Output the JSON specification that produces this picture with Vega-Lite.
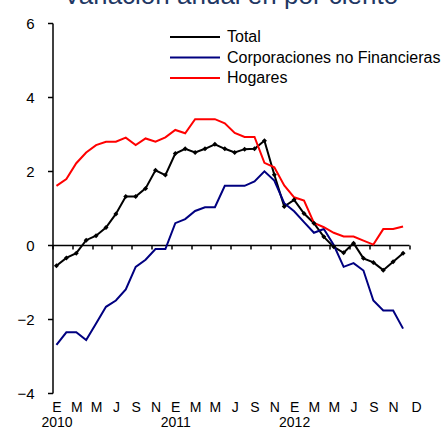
{
  "$schema": "https://vega.github.io/schema/vega-lite/v6.json",
  "autosize": {"type": "none"},
  "padding": {"left": 52.5, "top": 23, "right": 33, "bottom": 44},
  "width": 356.5,
  "height": 370,
  "title": {"text": "Variación anual en por ciento", "fontSize": 26, "font": "Liberation Sans", "fontWeight": "normal", "color": "#1F3864", "anchor": "middle", "baseline": "alphabetic", "offset": -1, "dy": 13},
  "config": {
    "view": {"stroke": null},
    "font": "Liberation Sans",
    "axis": {"grid": false, "domainColor": "black", "tickColor": "black", "labelColor": "black"}
  },
  "data": {"values": [
    {"mes": 0, "Total": -0.56, "Corporaciones no Financieras": -2.7, "Hogares": 1.6},
    {"mes": 1, "Total": -0.35, "Corporaciones no Financieras": -2.36, "Hogares": 1.78},
    {"mes": 2, "Total": -0.22, "Corporaciones no Financieras": -2.36, "Hogares": 2.21},
    {"mes": 3, "Total": 0.13, "Corporaciones no Financieras": -2.57, "Hogares": 2.5},
    {"mes": 4, "Total": 0.25, "Corporaciones no Financieras": -2.12, "Hogares": 2.7},
    {"mes": 5, "Total": 0.47, "Corporaciones no Financieras": -1.67, "Hogares": 2.79},
    {"mes": 6, "Total": 0.84, "Corporaciones no Financieras": -1.5, "Hogares": 2.79},
    {"mes": 7, "Total": 1.31, "Corporaciones no Financieras": -1.2, "Hogares": 2.9},
    {"mes": 8, "Total": 1.31, "Corporaciones no Financieras": -0.59, "Hogares": 2.7},
    {"mes": 9, "Total": 1.53, "Corporaciones no Financieras": -0.4, "Hogares": 2.88},
    {"mes": 10, "Total": 2.02, "Corporaciones no Financieras": -0.11, "Hogares": 2.79},
    {"mes": 11, "Total": 1.89, "Corporaciones no Financieras": -0.11, "Hogares": 2.91},
    {"mes": 12, "Total": 2.47, "Corporaciones no Financieras": 0.59, "Hogares": 3.11},
    {"mes": 13, "Total": 2.6, "Corporaciones no Financieras": 0.7, "Hogares": 3.02},
    {"mes": 14, "Total": 2.5, "Corporaciones no Financieras": 0.92, "Hogares": 3.4},
    {"mes": 15, "Total": 2.6, "Corporaciones no Financieras": 1.02, "Hogares": 3.4},
    {"mes": 16, "Total": 2.72, "Corporaciones no Financieras": 1.02, "Hogares": 3.4},
    {"mes": 17, "Total": 2.6, "Corporaciones no Financieras": 1.6, "Hogares": 3.29},
    {"mes": 18, "Total": 2.5, "Corporaciones no Financieras": 1.6, "Hogares": 3.03},
    {"mes": 19, "Total": 2.59, "Corporaciones no Financieras": 1.6, "Hogares": 2.92},
    {"mes": 20, "Total": 2.6, "Corporaciones no Financieras": 1.72, "Hogares": 2.92},
    {"mes": 21, "Total": 2.82, "Corporaciones no Financieras": 1.99, "Hogares": 2.22},
    {"mes": 22, "Total": 1.9, "Corporaciones no Financieras": 1.74, "Hogares": 2.1},
    {"mes": 23, "Total": 1.04, "Corporaciones no Financieras": 1.13, "Hogares": 1.61},
    {"mes": 24, "Total": 1.22, "Corporaciones no Financieras": 0.91, "Hogares": 1.29},
    {"mes": 25, "Total": 0.85, "Corporaciones no Financieras": 0.62, "Hogares": 1.2},
    {"mes": 26, "Total": 0.59, "Corporaciones no Financieras": 0.33, "Hogares": 0.6},
    {"mes": 27, "Total": 0.22, "Corporaciones no Financieras": 0.43, "Hogares": 0.48},
    {"mes": 28, "Total": -0.05, "Corporaciones no Financieras": 0.0, "Hogares": 0.33},
    {"mes": 29, "Total": -0.21, "Corporaciones no Financieras": -0.59, "Hogares": 0.23},
    {"mes": 30, "Total": 0.05, "Corporaciones no Financieras": -0.49, "Hogares": 0.23},
    {"mes": 31, "Total": -0.36, "Corporaciones no Financieras": -0.69, "Hogares": 0.12},
    {"mes": 32, "Total": -0.47, "Corporaciones no Financieras": -1.5, "Hogares": 0.01},
    {"mes": 33, "Total": -0.68, "Corporaciones no Financieras": -1.77, "Hogares": 0.43},
    {"mes": 34, "Total": -0.45, "Corporaciones no Financieras": -1.77, "Hogares": 0.43},
    {"mes": 35, "Total": -0.22, "Corporaciones no Financieras": -2.26, "Hogares": 0.5}
  ]},
  "transform": [{"fold": ["Total", "Corporaciones no Financieras", "Hogares"], "as": ["serie", "v"]}],
  "layer": [
    {
      "mark": {"type": "line", "strokeWidth": 2},
      "encoding": {
        "x": {"field": "mes", "type": "quantitative",
          "scale": {"domain": [-0.4, 35.6], "nice": false, "zero": false},
          "axis": {"orient": "bottom", "offset": -148, "values": [-0.4, 1.6, 3.6, 5.6, 7.6, 9.6, 11.6, 13.6, 15.6, 17.6, 19.6, 21.6, 23.6, 25.6, 27.6, 29.6, 31.6, 33.6, 35.6],
            "labels": false, "title": null, "tickSize": 4, "tickWidth": 1.5, "domainWidth": 1.5}},
        "y": {"field": "v", "type": "quantitative",
          "scale": {"domain": [-4, 6], "nice": false, "zero": false},
          "axis": {"values": [-4, -2, 0, 2, 4, 6], "title": null, "tickSize": 5, "labelPadding": 13.5, "labelFontSize": 15, "domainWidth": 1.5, "tickWidth": 1.5}},
        "color": {"field": "serie", "type": "nominal",
          "scale": {"domain": ["Total", "Corporaciones no Financieras", "Hogares"], "range": ["#000000", "#000080", "#FF0000"]},
          "legend": {"orient": "none", "legendX": 134.5, "legendY": 6, "title": null, "symbolType": "M-5,0H5", "symbolSize": 100, "symbolStrokeWidth": 2, "labelFontSize": 16, "labelOffset": 24, "labelLimit": 0, "rowPadding": 4.5, "padding": 0, "labelColor": "black"}}
      }
    },
    {
      "transform": [{"filter": "datum.serie === 'Total'"}],
      "mark": {"type": "point", "shape": "diamond", "filled": true, "size": 25, "color": "black", "opacity": 1},
      "encoding": {
        "x": {"field": "mes", "type": "quantitative",
          "axis": {"orient": "bottom", "values": [0, 2, 4, 6, 8, 10, 12, 14, 16, 18, 20, 22, 24, 26, 28, 30, 32, 34, 35],
            "labelExpr": "datum.value==0?['E','2010']:datum.value==12?['E','2011']:datum.value==24?['E','2012']:datum.value==35?'D':['E','M','M','J','S','N'][(datum.value%12)/2]",
            "title": null, "domain": false, "ticks": false, "tickSize": 0, "labelPadding": 7, "labelFontSize": 14, "labelLineHeight": 15, "labelBaseline": "top", "labelOverlap": false, "labelFlush": false,
            "labelOffset": {"condition": {"test": "datum.value == 35", "value": 13}, "value": 0}}},
        "y": {"field": "v", "type": "quantitative"}
      }
    }
  ],
  "resolve": {"axis": {"x": "independent"}}
}
